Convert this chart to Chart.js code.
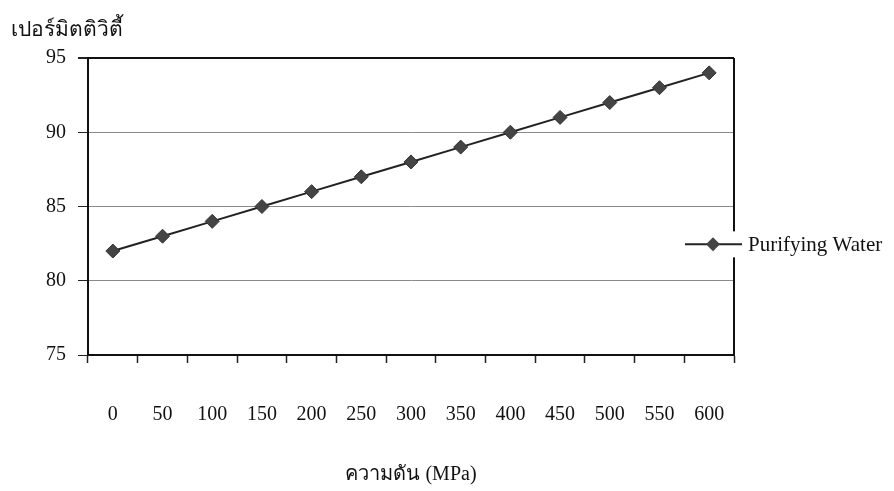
<html>
<head>
  <title>Purifying Water</title>
  <script src="https://cdn.jsdelivr.net/npm/chart.js"></script>
  <style>
    body { margin: 0; background: #fff; }
    #wrap { width: 894px; height: 491px; }
  </style>
</head>
<body>
  <div id="wrap"><canvas id="permChart"></canvas></div>

  <script>
    // Chart data
    const pressures = ['0', '50', '100', '150', '200', '250', '300', '350', '400', '450', '500', '550', '600'];
    const permittivity = [82, 83, 84, 85, 86, 87, 88, 89, 90, 91, 92, 93, 94];
    const seriesName = 'Purifying Water';
    const yTitle = 'เปอร์มิตติวิตี้';
    const xTitle = 'ความดัน (MPa)';

    const serif = '"Liberation Serif", "Times New Roman", serif';

    // Right border, titles and a legend that sits over the right border
    const extras = {
      id: 'extras',
      afterDraw(chart) {
        const ctx = chart.ctx;
        const area = chart.chartArea;
        ctx.save();
        ctx.strokeStyle = '#111';
        ctx.lineWidth = 2;
        ctx.beginPath();
        ctx.moveTo(area.right, area.top);
        ctx.lineTo(area.right, area.bottom);
        ctx.stroke();

        // titles
        ctx.fillStyle = '#111';
        ctx.font = '21px ' + serif;
        ctx.textBaseline = 'middle';
        ctx.textAlign = 'left';
        ctx.fillText(yTitle, 11, 30);
        ctx.font = '20px ' + serif;
        ctx.textAlign = 'center';
        ctx.fillText(xTitle, (area.left + area.right) / 2, 475);

        // legend
        const ly = chart.scales.y.getPixelForValue(82.45);
        const lx = area.right - 49;
        ctx.fillStyle = '#fff';
        ctx.fillRect(lx - 2, ly - 13, 210, 26);
        ctx.strokeStyle = '#222';
        ctx.lineWidth = 2;
        ctx.beginPath();
        ctx.moveTo(lx, ly);
        ctx.lineTo(lx + 57, ly);
        ctx.stroke();
        ctx.fillStyle = '#444';
        ctx.beginPath();
        ctx.moveTo(lx + 28, ly - 7);
        ctx.lineTo(lx + 35, ly);
        ctx.lineTo(lx + 28, ly + 7);
        ctx.lineTo(lx + 21, ly);
        ctx.closePath();
        ctx.fill();
        ctx.fillStyle = '#111';
        ctx.font = '21px ' + serif;
        ctx.textAlign = 'left';
        ctx.fillText(chart.data.datasets[0].label, lx + 63, ly + 1);
        ctx.restore();
      }
    };

    new Chart(document.getElementById('permChart'), {
      type: 'line',
      data: {
        labels: pressures,
        datasets: [{
          label: seriesName,
          data: permittivity,
          borderColor: '#222',
          borderWidth: 2,
          pointStyle: 'rectRot',
          pointRadius: 7,
          pointHoverRadius: 7,
          pointBackgroundColor: '#444',
          pointBorderColor: '#333',
          pointBorderWidth: 1,
          tension: 0,
          fill: false
        }]
      },
      options: {
        responsive: true,
        maintainAspectRatio: false,
        animation: false,
        layout: {
          padding: { left: 34, right: 160, top: 58, bottom: 24 }
        },
        plugins: {
          legend: { display: false },
          tooltip: { enabled: false }
        },
        scales: {
          x: {
            offset: true,
            grid: {
              offset: true,
              drawOnChartArea: false,
              drawTicks: true,
              tickLength: 8,
              tickColor: '#222',
              tickWidth: 1.5
            },
            border: { color: '#111', width: 2 },
            ticks: {
              color: '#111',
              padding: 40,
              maxRotation: 0,
              font: { family: serif, size: 20 }
            }
          },
          y: {
            min: 75,
            max: 95,
            ticks: {
              stepSize: 5,
              color: '#111',
              padding: 12,
              font: { family: serif, size: 20 }
            },
            grid: {
              color: c => (c.tick && c.tick.value === 95) ? '#111' : '#8a8a8a',
              lineWidth: c => (c.tick && c.tick.value === 95) ? 2 : 1,
              drawTicks: true,
              tickLength: 10,
              tickColor: '#222'
            },
            border: { color: '#111', width: 2 }
          }
        }
      },
      plugins: [extras]
    });
  </script>
</body>
</html>
